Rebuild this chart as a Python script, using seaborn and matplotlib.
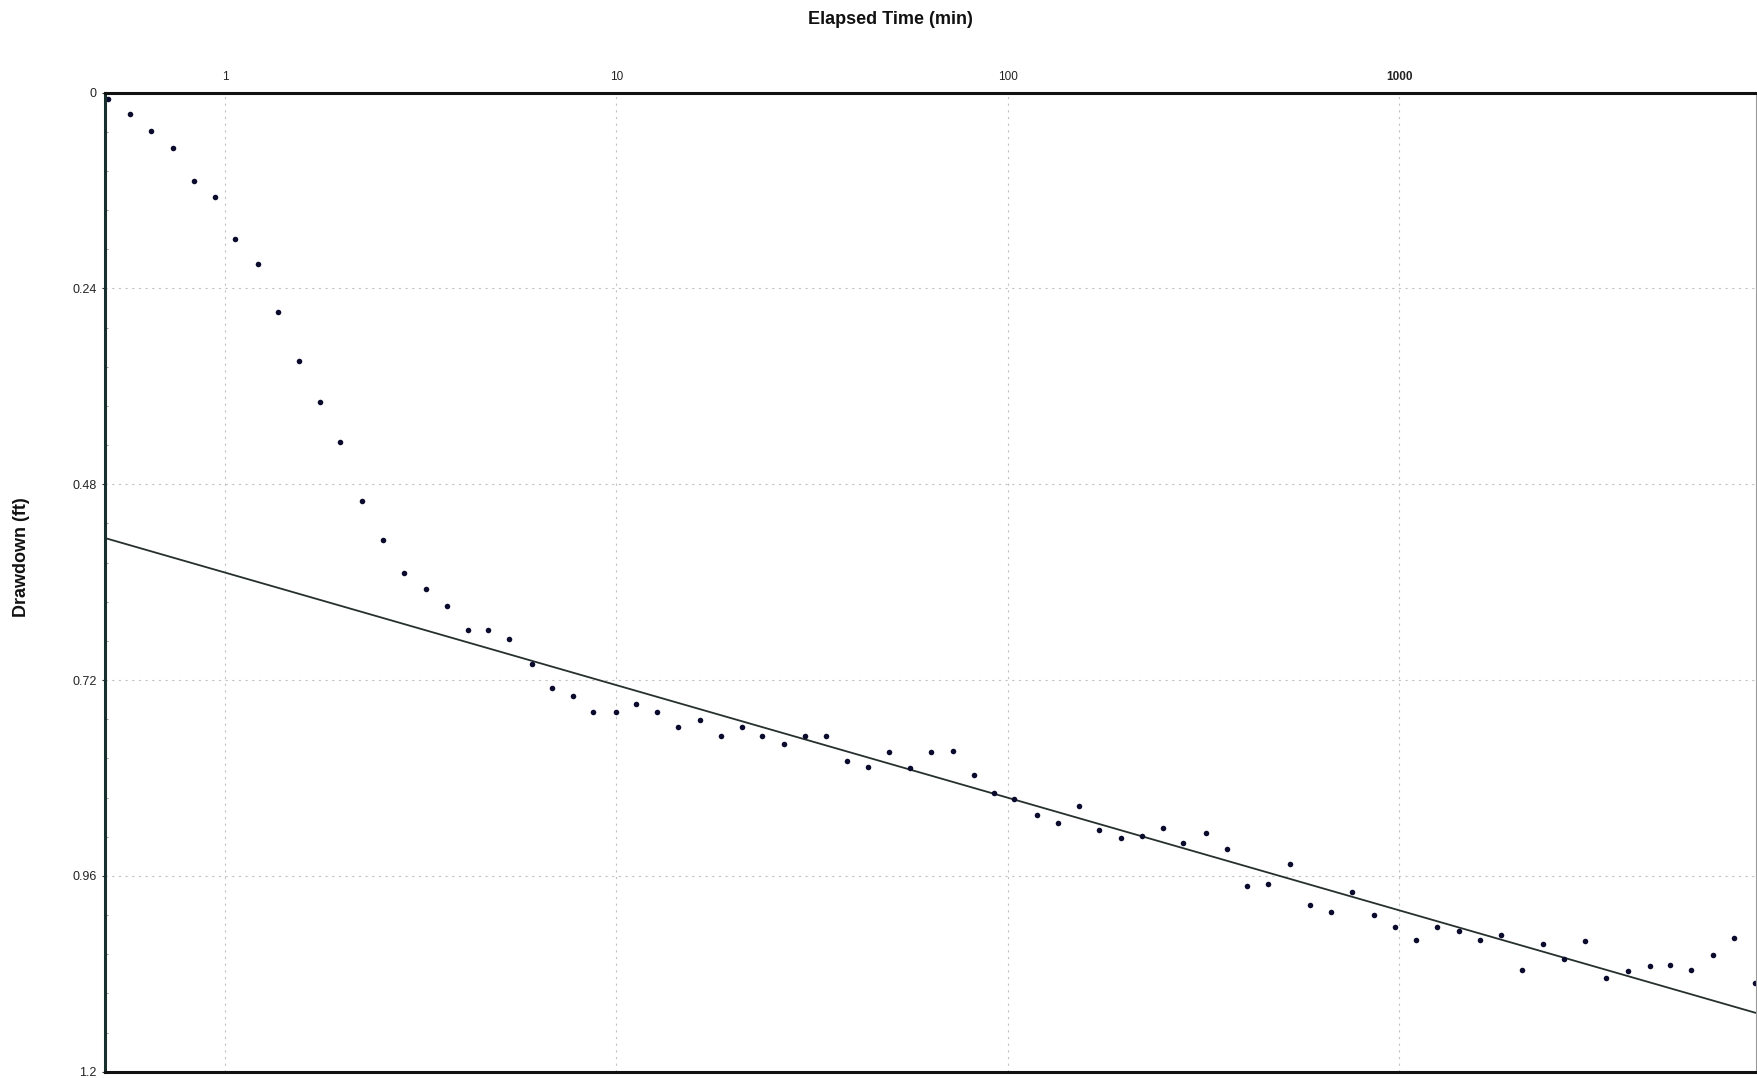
import matplotlib
matplotlib.use("Agg")
import matplotlib.pyplot as plt
from matplotlib.ticker import FixedLocator, MultipleLocator, NullLocator
import seaborn as sns
import pandas as pd

# ---- data ----
elapsed_time = [0.503, 0.572, 0.647, 0.738, 0.833, 0.941, 1.061, 1.214, 1.368, 1.546,
                1.746, 1.970, 2.243, 2.537, 2.867, 3.257, 3.685, 4.171, 4.707, 5.317,
                6.075, 6.847, 7.733, 8.730, 9.95, 11.25, 12.70, 14.34, 16.32, 18.48,
                20.90, 23.60, 26.81, 30.33, 34.32, 38.76, 44.02, 49.77, 56.26, 63.53,
                72.32, 81.84, 92.20, 103.7, 118.5, 134.1, 151.7, 171.0, 194.6, 220.6,
                248.8, 280.8, 320.3, 362.5, 408.9, 462.2, 526.0, 592.9, 669.6, 759.0,
                862.1, 975.6, 1104, 1247, 1421, 1609, 1820, 2056, 2335, 2642,
                2989, 3382, 3849, 4365, 4927, 5576, 6346, 7181, 8110]
drawdown = [0.008, 0.026, 0.047, 0.068, 0.109, 0.128, 0.179, 0.210, 0.269, 0.329,
            0.379, 0.428, 0.500, 0.549, 0.589, 0.608, 0.629, 0.659, 0.659, 0.670,
            0.700, 0.730, 0.740, 0.759, 0.759, 0.749, 0.759, 0.778, 0.769, 0.789,
            0.778, 0.789, 0.799, 0.789, 0.789, 0.819, 0.827, 0.808, 0.828, 0.808,
            0.807, 0.837, 0.858, 0.866, 0.886, 0.895, 0.874, 0.904, 0.913, 0.911,
            0.901, 0.920, 0.908, 0.927, 0.972, 0.970, 0.946, 0.996, 1.004, 0.980,
            1.008, 1.023, 1.039, 1.023, 1.027, 1.039, 1.032, 1.075, 1.043, 1.062,
            1.040, 1.085, 1.077, 1.070, 1.069, 1.075, 1.057, 1.036, 1.091]

# fitted straight line (end points)
fit_time = [0.4935, 8160]
fit_drawdown = [0.546, 1.128]

x_ticks = [1, 10, 100, 1000]
x_tick_labels = ["1", "10", "100", "1000"]
y_ticks = [0, 0.24, 0.48, 0.72, 0.96, 1.2]
y_tick_labels = ["0", "0.24", "0.48", "0.72", "0.96", "1.2"]

df = pd.DataFrame({"time": elapsed_time, "drawdown": drawdown})
fit_df = pd.DataFrame({"time": fit_time, "drawdown": fit_drawdown})

sns.set_theme(style="white")
plt.rcParams["font.family"] = ["Liberation Sans", "DejaVu Sans"]

W, H = 1758, 1078
fig = plt.figure(figsize=(W / 100, H / 100), dpi=100)
left, right, top, bottom = 105, 1756, 92.5, 1071.7
ax = fig.add_axes([left / W, 1 - bottom / H, (right - left) / W, (bottom - top) / H])

ax.set_xscale("log")

sns.lineplot(data=fit_df, x="time", y="drawdown", ax=ax, color="#26302e",
             linewidth=1.3, zorder=3)
sns.scatterplot(data=df, x="time", y="drawdown", ax=ax, s=16, color="#0b0b2e",
                linewidth=0, zorder=4)

ax.set_xlim(0.4935, 8160)
ax.set_ylim(1.2, 0)

# ticks
ax.xaxis.set_major_locator(FixedLocator(x_ticks))
ax.xaxis.set_minor_locator(NullLocator())
ax.set_xticks(x_ticks)
ax.set_xticklabels(x_tick_labels)
ax.set_yticks(y_ticks)
ax.set_yticklabels(y_tick_labels)
ax.yaxis.set_minor_locator(MultipleLocator(0.048))

ax.xaxis.tick_top()
ax.tick_params(axis="x", which="major", top=True, bottom=False, length=0,
               pad=6.5, labelsize=8.5, labelcolor="#222222")
ax.tick_params(axis="y", which="major", left=True, length=2.5, width=0.8,
               direction="out", pad=3.5, labelsize=9, labelcolor="#222222",
               color="#333333")
ax.tick_params(axis="y", which="minor", left=True, length=2, width=0.5,
               direction="in", color="#777777")
ax.get_xticklabels()[3].set_fontweight("bold")

# grid
ax.grid(True, which="major", axis="both", color="#c2c2c2", linestyle=(0, (2, 4)),
        linewidth=0.8)

# spines
for side in ["top", "bottom"]:
    ax.spines[side].set_color("#111111")
    ax.spines[side].set_linewidth(2.2)
ax.spines["left"].set_color("#17302e")
ax.spines["left"].set_linewidth(2.2)
ax.spines["right"].set_color("#9a9a9a")
ax.spines["right"].set_linewidth(0.8)
for s in ax.spines.values():
    s.set_zorder(5)

# labels
ax.set_xlabel("Elapsed Time (min)", fontsize=13, fontweight="bold", color="#111111")
ax.xaxis.set_label_position("top")
ax.xaxis.set_label_coords((890 - left) / (right - left), (bottom - 20) / (bottom - top))
ax.xaxis.label.set_verticalalignment("center")

ax.set_ylabel("Drawdown (ft)", fontsize=13, fontweight="bold", color="#111111")
ax.yaxis.set_label_coords((22 - left) / (right - left), (bottom - 557) / (bottom - top))
ax.yaxis.label.set_verticalalignment("center")
ax.yaxis.label.set_horizontalalignment("center")

fig.savefig("out.png", dpi=100, facecolor="white")
